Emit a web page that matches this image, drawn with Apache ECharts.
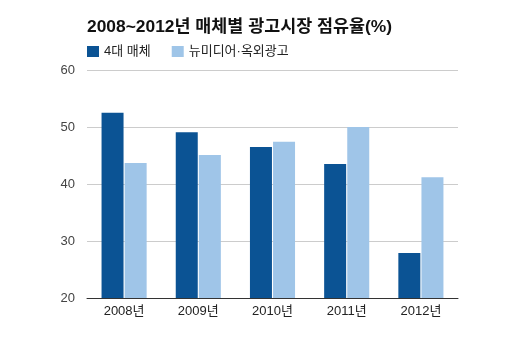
<!DOCTYPE html>
<html><head><meta charset="utf-8">
<script src="https://cdn.jsdelivr.net/npm/echarts@6/dist/echarts.min.js"></script>
<style>html,body{margin:0;padding:0;background:#fff}#c{width:510px;height:363px}</style>
</head><body><div id="c"></div>
<script>
const categories = ['2008년','2009년','2010년','2011년','2012년'];
const seriesNames = ['4대 매체','뉴미디어·옥외광고'];
const traditional = [52.5, 49.1, 46.5, 43.5, 27.9];
const newMedia = [43.7, 45.1, 47.4, 50.0, 41.2];
const titleText = '2008~2012년 매체별 광고시장 점유율(%)';
const FONT = '"Liberation Sans", Arial, "Noto Sans CJK KR", sans-serif';
const chart = echarts.init(document.getElementById('c'));
chart.setOption({
  animation: false,
  backgroundColor: '#fff',
  title: {text: titleText, left: 82, top: 14,
    textStyle: {fontFamily: FONT, fontSize: 17.4, fontWeight: 'bold', color: '#111'}},
  legend: {data: seriesNames, left: 82, top: 40, itemWidth: 12, itemHeight: 11, itemGap: 21,
    icon: 'rect', textStyle: {fontFamily: FONT, fontSize: 13, color: '#222'}},
  grid: {left: 87, right: 52, top: 70, bottom: 65, containLabel: false},
  xAxis: {type: 'category', data: categories,
    axisLine: {lineStyle: {color: '#333', width: 1}}, axisTick: {show: false},
    axisLabel: {fontFamily: FONT, fontSize: 13, color: '#222', margin: 7}},
  yAxis: {type: 'value', min: 20, max: 60, interval: 10,
    axisLine: {show: false}, axisTick: {show: false},
    splitLine: {lineStyle: {color: '#ccc', width: 1}},
    axisLabel: {fontFamily: FONT, fontSize: 13, color: '#444', margin: 12}},
  series: [
    {name: seriesNames[0], type: 'bar', data: traditional, barWidth: 22, barGap: '5%',
      itemStyle: {color: '#0b5394'}},
    {name: seriesNames[1], type: 'bar', data: newMedia, barWidth: 22,
      itemStyle: {color: '#9fc5e8'}}
  ]
});
</script></body></html>
